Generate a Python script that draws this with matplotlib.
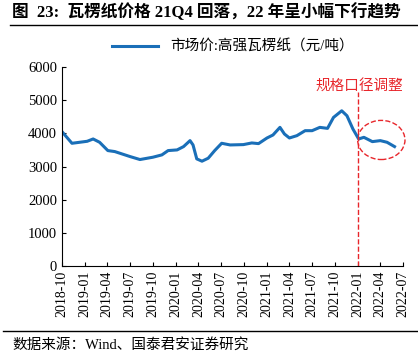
import datetime
import numpy as np
import matplotlib.pyplot as plt
import matplotlib.dates as mdates
from matplotlib.patches import Ellipse

plt.rcParams['font.family'] = ['Liberation Serif', 'Noto Sans CJK SC']

# 市场价:高强瓦楞纸（元/吨）
dates = ["2018-10-01", "2018-11-10", "2019-01-10", "2019-02-03", "2019-03-01",
         "2019-04-03", "2019-05-01", "2019-07-01", "2019-08-10", "2019-10-01",
         "2019-11-06", "2019-12-01", "2020-01-06", "2020-02-01", "2020-02-27",
         "2020-03-10", "2020-03-25", "2020-04-15", "2020-05-10", "2020-06-05",
         "2020-07-03", "2020-08-06", "2020-09-28", "2020-11-01", "2020-11-28",
         "2021-01-01", "2021-01-25", "2021-02-22", "2021-03-12", "2021-04-01",
         "2021-05-01", "2021-06-03", "2021-07-01", "2021-08-01", "2021-09-01",
         "2021-09-25", "2021-10-28", "2021-11-18", "2021-12-12", "2022-01-04",
         "2022-01-25", "2022-02-28", "2022-04-01", "2022-04-28", "2022-05-28"]
prices = [4050, 3700, 3760, 3830, 3730,
          3480, 3450, 3300, 3210, 3280,
          3350, 3480, 3500, 3600, 3780,
          3650, 3230, 3160, 3250, 3480,
          3700, 3650, 3660, 3710, 3690,
          3860, 3950, 4180, 3980, 3860,
          3930, 4080, 4080, 4180, 4150,
          4480, 4680, 4530, 4130, 3830,
          3880, 3750, 3780, 3730, 3600]
tick_labels = ["2018-10", "2019-01", "2019-04", "2019-07", "2019-10",
               "2020-01", "2020-04", "2020-07", "2020-10", "2021-01",
               "2021-04", "2021-07", "2021-10", "2022-01", "2022-04", "2022-07"]

x = [datetime.datetime.strptime(d, "%Y-%m-%d") for d in dates]
ticks = [datetime.datetime.strptime(t + "-01", "%Y-%m-%d") for t in tick_labels]
cut = datetime.datetime(2022, 1, 1)

W, H = 418, 357
fig = plt.figure(figsize=(W / 100, H / 100), dpi=100)
ax = fig.add_axes([62 / W, 1 - 266 / H, (403 - 62) / W, (266 - 67) / H])

ax.plot(x, prices, color="#1a6fb8", lw=2.2, solid_joinstyle="round")
ax.axvline(cut, ymin=0, ymax=(266 - 92) / (266 - 67), color="#e8262b", lw=1, ls="--")
ax.text(mdates.date2num(cut) + 5, 5420, "规格口径调整", color="#e8262b", fontsize=10.5,
        ha="center", va="center")
ax.add_patch(Ellipse((mdates.date2num(datetime.datetime(2022, 4, 5)), 3800), 190, 1180,
                     fill=False, ec="#e8262b", ls="--", lw=1, clip_on=False))

ax.set_xlim(ticks[0], ticks[-1])
ax.set_ylim(0, 6000)
ax.set_yticks(range(0, 6001, 1000))
ax.set_xticks(ticks)
ax.set_xticklabels(tick_labels, rotation=90, fontsize=10)
ax.tick_params(axis="y", labelsize=10.5, direction="in", length=3)
ax.tick_params(axis="x", direction="in", length=3)
for s in ["top", "right"]:
    ax.spines[s].set_visible(False)

leg = ax.legend(["市场价:高强瓦楞纸（元/吨）"], loc="center", bbox_to_anchor=(0.5, 1 + 20 / 199),
                frameon=False, fontsize=10.5, handlelength=3.2)

fig.text(12 / W, 1 - 12 / H, "图  23:  瓦楞纸价格 21Q4 回落，22 年呈小幅下行趋势",
         fontsize=12, fontweight="bold", va="center", ha="left")
fig.add_artist(plt.Line2D([10 / W, 1], [1 - 25 / H] * 2, color="black", lw=1))
fig.add_artist(plt.Line2D([3 / W, 1], [1 - 331 / H] * 2, color="black", lw=1))
fig.text(12 / W, 1 - 345 / H, "数据来源：Wind、国泰君安证券研究", fontsize=10.5, va="center", ha="left")

fig.savefig("out.png", dpi=100)
